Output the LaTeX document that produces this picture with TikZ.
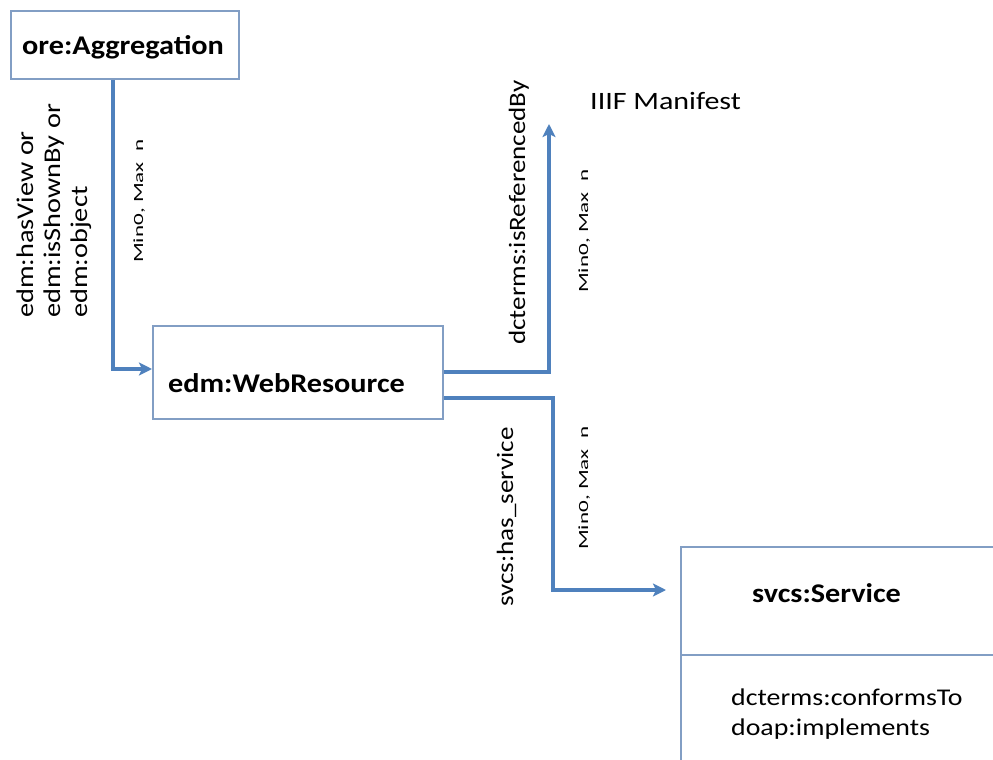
\documentclass[tikz,border=0pt]{standalone}
\usepackage{fontspec}
\setmainfont{Carlito}
\usetikzlibrary{arrows.meta}
\definecolor{lineblue}{RGB}{79,129,189}
\definecolor{boxblue}{RGB}{130,158,196}
\newcommand{\sx}[2]{\scalebox{#1}[1]{#2}}
\tikzset{
  cls/.style={draw=boxblue, line width=2pt, fill=white, inner sep=0pt},
  conn/.style={draw=lineblue, line width=3.5pt, -{Stealth[length=13pt,width=13pt,inset=3pt]}},
  title/.style={font=\fontsize{27}{32}\selectfont\bfseries, inner sep=0pt, anchor=base west},
  rel/.style={rotate=90, font=\fontsize{23.5}{28}\selectfont, inner sep=0pt, anchor=base west},
  card/.style={rotate=90, font=\fontsize{14}{16}\selectfont, inner sep=0pt, anchor=base west},
  plain/.style={font=\fontsize{24}{28}\selectfont, inner sep=0pt, anchor=base west},
}
\begin{document}
\begin{tikzpicture}[x=1pt,y=-1pt]
\useasboundingbox (0,0) rectangle (993,760);
% boxes
\node[cls, minimum width=228pt, minimum height=68pt, anchor=north west] (agg) at (10,10) {};
\node[title] (aggt) at (22,55) {\sx{1.12}{ore:Aggregation}};
\node[cls, minimum width=290pt, minimum height=93pt, anchor=north west] (web) at (152,325) {};
\node[title] (webt) at (168,392) {\sx{1.12}{edm:WebResource}};
\node[cls, minimum width=340pt, minimum height=240pt, anchor=north west] (svc) at (680,546) {};
\draw[draw=boxblue, line width=2pt] (svc.west |- 0,655) coordinate (d1) -- (svc.east |- 0,655) coordinate (d2);
\node[title] (svct) at (752,602) {\sx{1.12}{svcs:Service}};
\node[plain] (svca1) at (731,705) {\sx{1.16}{dcterms:conformsTo}};
\node[plain] (svca2) at (731,735) {\sx{1.16}{doap:implements}};
\node[plain, font=\fontsize{25}{30}\selectfont] (iiif) at (590,110) {\sx{1.2}{IIIF Manifest}};
% connectors
\coordinate (c1) at (113,369);
\draw[conn] (agg.south -| c1) -- (c1) -- (web.west |- c1);
\coordinate (c2) at (549,372);
\coordinate (c2t) at (549,124);
\draw[conn] (web.east |- c2) -- (c2) -- (c2t);
\coordinate (c3) at (553,398);
\coordinate (c3b) at (553,590);
\draw[conn, shorten >=14pt] (web.east |- c3) -- (c3) -- (c3b) -- (svc.west |- c3b);
% labels
\node[rel, font=\fontsize{24}{28}\selectfont] (l1a) at (33,318) {\sx{1.18}{edm:hasView or}};
\node[rel, font=\fontsize{24}{28}\selectfont] (l1b) at (60,318) {\sx{1.18}{edm:isShownBy or}};
\node[rel, font=\fontsize{24}{28}\selectfont] (l1c) at (87,318) {\sx{1.18}{edm:object}};
\node[card] (m1) at (143,263) {\sx{1.65}{Min0, Max~ n}};
\node[rel] (l2) at (525,345) {\sx{1.15}{dcterms:isReferencedBy}};
\node[card] (m2) at (588,293) {\sx{1.65}{Min0, Max~ n}};
\node[rel] (l3) at (513,607) {\sx{1.15}{svcs:has\_service}};
\node[card] (m3) at (588,550) {\sx{1.65}{Min0, Max~ n}};
\end{tikzpicture}
\end{document}
